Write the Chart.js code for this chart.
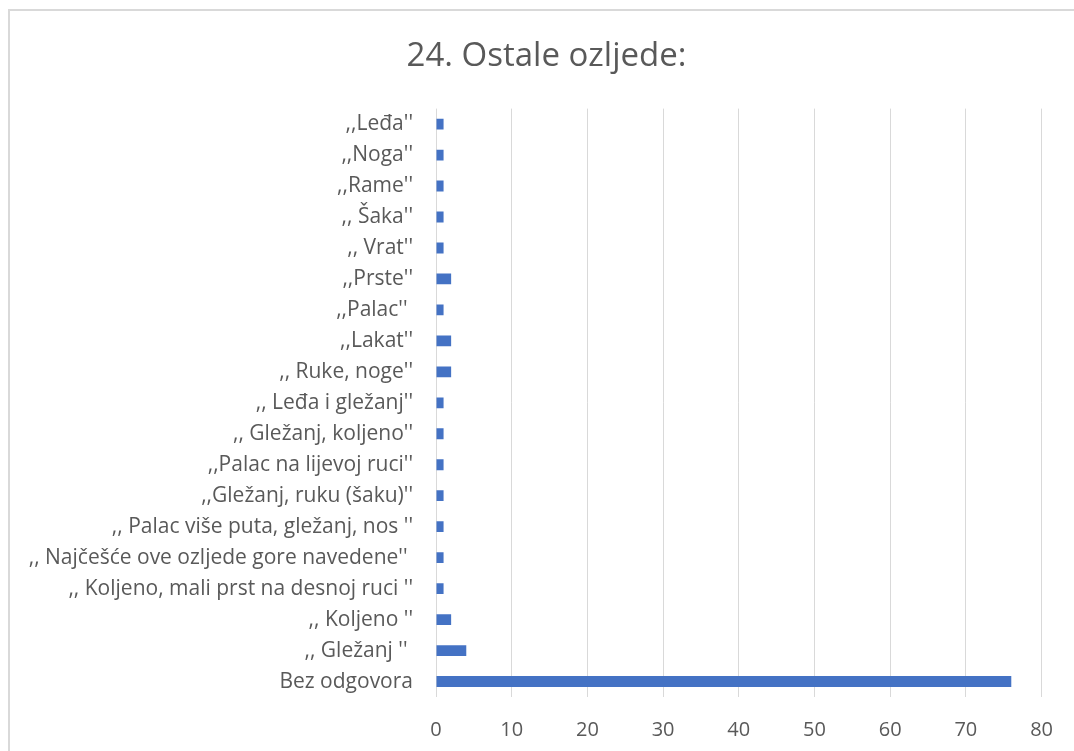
<!DOCTYPE html>
<html>
<head>
<meta charset="utf-8">
<script src="https://cdn.jsdelivr.net/npm/chart.js@4/dist/chart.umd.min.js"></script>
<style>
  html, body { margin: 0; padding: 0; background: #fff; overflow: hidden; }
  #wrap { position: relative; width: 1074px; height: 751px; }
  #frame { position: absolute; left: 8px; top: 9px; width: 1080px; height: 760px; border: 2px solid #d9d9d9; pointer-events: none; }
</style>
</head>
<body>
<div id="wrap">
  <canvas id="chart" width="1074" height="751"></canvas>
  <div id="frame"></div>
</div>
<script>
// categories, top to bottom as in the picture
const categories = [
  ",,Leđa''",
  ",,Noga''",
  ",,Rame''",
  ",, Šaka''",
  ",, Vrat''",
  ",,Prste''",
  ",,Palac'' ",
  ",,Lakat''",
  ",, Ruke, noge''",
  ",, Leđa i gležanj''",
  ",, Gležanj, koljeno''",
  ",,Palac na lijevoj ruci''",
  ",,Gležanj, ruku (šaku)''",
  ",, Palac više puta, gležanj, nos ''",
  ",, Najčešće ove ozljede gore navedene'' ",
  ",, Koljeno, mali prst na desnoj ruci ''",
  ",, Koljeno ''",
  ",, Gležanj '' ",
  "Bez odgovora"
];
const counts = [1, 1, 1, 1, 1, 2, 1, 2, 2, 1, 1, 1, 1, 1, 1, 1, 2, 4, 76];
const xTicks = [0, 10, 20, 30, 40, 50, 60, 70, 80];

const grey = '#595959';

// long category labels reach past the left padding, so don't let the axis clip them
const noLabelClip = {
  id: 'noLabelClip',
  afterLayout(chart) { chart.scales.y.left = 0; }
};

new Chart(document.getElementById('chart'), {
  type: 'bar',
  data: {
    labels: categories,
    datasets: [{
      data: counts,
      backgroundColor: '#4472C4',
      categoryPercentage: 1,
      barPercentage: 0.35
    }]
  },
  options: {
    indexAxis: 'y',
    responsive: false,
    animation: false,
    layout: { padding: { left: 49, right: 30, top: 0, bottom: 0 } },
    plugins: {
      legend: { display: false },
      tooltip: { enabled: false },
      title: {
        display: true,
        text: '24. Ostale ozljede:',
        color: grey,
        font: { family: 'Open Sans', size: 33, weight: 'normal', lineHeight: 1.2 },
        padding: { top: 37, bottom: 32 }
      }
    },
    scales: {
      x: {
        min: 0,
        max: xTicks[xTicks.length - 1],
        afterBuildTicks: scale => { scale.ticks = xTicks.map(v => ({ value: v })); },
        afterFit: scale => { scale.height = 54; },
        grid: { color: '#d9d9d9', lineWidth: 1, drawTicks: false },
        border: { display: false },
        ticks: { color: grey, padding: 21, font: { family: 'Open Sans', size: 20 } }
      },
      y: {
        afterFit: scale => { scale.width = 436 - 49; },
        grid: { display: false, drawTicks: false },
        border: { display: false },
        ticks: { color: grey, padding: 23, autoSkip: false, font: { family: 'Open Sans', size: 21 } }
      }
    }
  },
  plugins: [noLabelClip]
});
</script>
</body>
</html>
